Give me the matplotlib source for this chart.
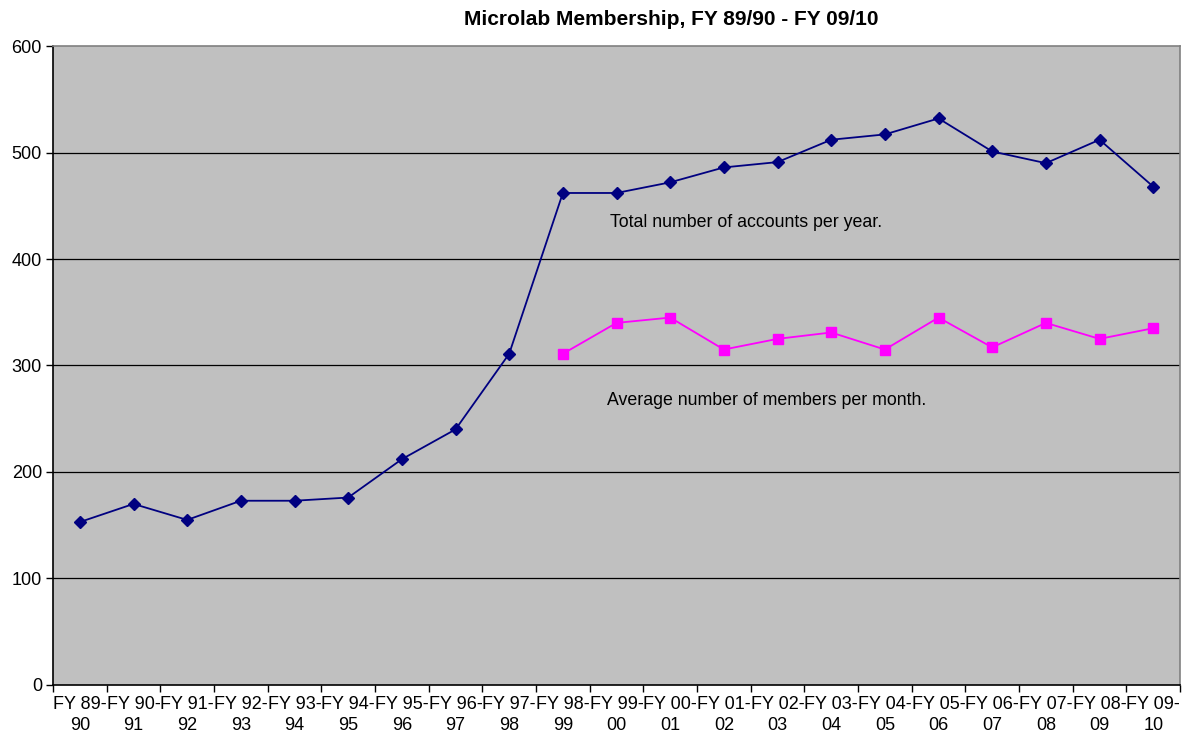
import numpy as np
import matplotlib
matplotlib.use("Agg")
import matplotlib.pyplot as plt

plt.rcParams['font.family'] = ['Liberation Sans', 'DejaVu Sans']

years = ["FY 89-\n90", "FY 90-\n91", "FY 91-\n92", "FY 92-\n93", "FY 93-\n94",
         "FY 94-\n95", "FY 95-\n96", "FY 96-\n97", "FY 97-\n98", "FY 98-\n99",
         "FY 99-\n00", "FY 00-\n01", "FY 01-\n02", "FY 02-\n03", "FY 03-\n04",
         "FY 04-\n05", "FY 05-\n06", "FY 06-\n07", "FY 07-\n08", "FY 08-\n09",
         "FY 09-\n10"]
total_accounts = [153, 170, 155, 173, 173, 176, 212, 240, 311, 462, 462,
                  472, 486, 491, 512, 517, 532, 501, 490, 512, 468]
# monthly averages only recorded from FY 98-99 onward
avg_members = [None] * 9 + [311, 340, 345, 315, 325, 331, 315, 345, 317,
                            340, 325, 335]

x = np.arange(len(years))
avg = np.array([np.nan if v is None else v for v in avg_members], dtype=float)

fig = plt.figure(figsize=(11.83, 7.34), dpi=100)
ax = fig.add_axes([0.0448, 0.0668, 0.9527, 0.8705])
ax.set_facecolor("#C0C0C0")

for y in range(100, 600, 100):
    ax.axhline(y, color="black", lw=0.9, zorder=1)

ax.plot(x, total_accounts, color="#000080", lw=1.3, marker="D",
        markersize=6.5, zorder=3)
ax.plot(x, avg, color="#FF00FF", lw=1.3, marker="s",
        markersize=7.5, zorder=3)

ax.text(9.87, 434, "Total number of accounts per year.", fontsize=12.8,
        va="center", ha="left")
ax.text(9.82, 267, "Average number of members per month.", fontsize=12.8,
        va="center", ha="left")

ax.set_xlim(-0.5, len(years) - 0.5)
ax.set_ylim(0, 600)
ax.set_yticks(range(0, 700, 100))
ax.set_xticks(x)
ax.set_xticklabels(years, fontsize=13, linespacing=1.3)
ax.set_xticks(np.arange(-0.5, len(years), 1), minor=True)
ax.tick_params(axis="x", which="major", length=0, pad=8)
ax.tick_params(axis="x", which="minor", length=5, width=1, color="black",
               direction="out")
ax.tick_params(axis="y", length=5, width=1, direction="out", labelsize=13,
               pad=3)

for side in ("left", "bottom"):
    ax.spines[side].set_color("black")
    ax.spines[side].set_linewidth(1.2)
for side in ("top", "right"):
    ax.spines[side].set_color("#808080")
    ax.spines[side].set_linewidth(1.2)

fig.text(0.567, 0.973, "Microlab Membership, FY 89/90 - FY 09/10",
         ha="center", va="center", fontsize=15, fontweight="bold")

fig.savefig("out.png", dpi=100)
